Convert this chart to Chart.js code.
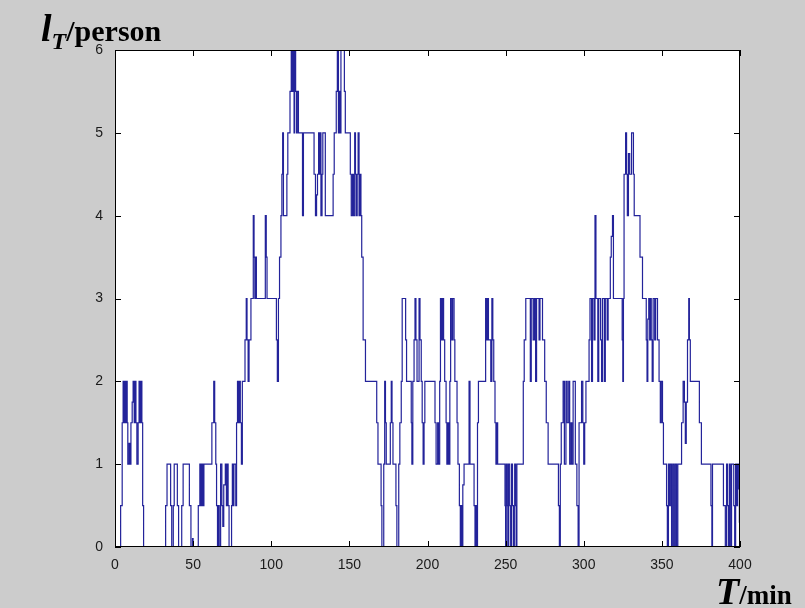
<!DOCTYPE html>
<html>
<head>
<meta charset="utf-8">
<script src="https://cdn.jsdelivr.net/npm/chart.js@4.4.1/dist/chart.umd.min.js"></script>
<style>
  body { margin: 0; background: #cccccc; }
  #wrap { position: relative; width: 805px; height: 608px; overflow: hidden; }
  .lab { position: absolute; font-family: "Liberation Serif", serif; font-weight: bold; color: #000; white-space: nowrap; line-height: 1; }
</style>
</head>
<body>
<div id="wrap">
  <canvas id="grafico" width="805" height="608"></canvas>
  <div class="lab" id="ylab" style="left:41px; top:9px;"><i style="font-size:38px">l</i><i style="font-size:24px; position:relative; top:8px">T</i><span style="font-size:30px">/person</span></div>
  <div class="lab" id="xlab" style="left:716px; top:572px;"><i style="font-size:38px">T</i><span style="font-size:27px">/min</span></div>
</div>
<script>
// queue length l_T (persons) starting at each time T (min)
const stepTimes = [
  0, 3.6, 4.6, 5.2, 5.8, 6.2, 6.8, 7.4, 7.8, 8.2, 9.0, 9.6, 10.2, 11.0, 11.6, 12.3, 12.8, 13.4, 14.0, 14.8,
  15.4, 16.0, 16.5, 17.2, 17.7, 18.3, 32.4, 33.3, 35.6, 36.3, 37.3, 37.9, 39.9, 40.7, 42.7, 43.6, 47.6, 48.6, 49.6, 50.0,
  53.3, 54.3, 55.0, 55.6, 56.3, 56.9, 62.0, 63.2, 63.8, 64.5, 65.0, 65.6, 66.2, 66.7, 67.6, 68.4, 69.0, 69.6, 70.6, 71.3,
  71.8, 72.4, 73.0, 74.6, 75.1, 75.6, 76.1, 77.3, 77.8, 78.4, 79.0, 79.6, 80.2, 80.9, 81.5, 83.2, 84.0, 84.5, 85.2, 85.8,
  87.0, 88.5, 89.0, 89.5, 90.0, 90.5, 96.2, 96.8, 97.3, 103.3, 103.9, 104.6, 105.3, 106.2, 106.8, 107.3, 107.8, 110.0, 110.6, 112.0,
  112.8, 113.5, 114.0, 114.6, 115.0, 115.6, 116.2, 116.6, 117.4, 120.0, 120.6, 127.4, 128.3, 129.0, 129.6, 130.3, 130.8, 131.4, 131.8, 132.5,
  133.0, 134.6, 139.6, 140.3, 141.6, 142.3, 143.0, 143.6, 144.0, 144.6, 146.8, 147.4, 150.6, 151.2, 152.0, 152.6, 153.4, 153.9, 154.4, 155.0,
  155.6, 156.2, 156.8, 157.4, 157.9, 158.8, 160.3, 167.5, 168.3, 170.3, 170.8, 172.0, 172.6, 173.1, 173.6, 176.2, 176.8, 177.3, 177.9, 179.8,
  180.4, 181.6, 182.3, 183.2, 183.8, 186.0, 186.6, 189.6, 190.0, 190.6, 191.4, 192.0, 192.6, 193.3, 194.6, 195.2, 196.0, 196.6, 197.2, 197.8,
  198.3, 204.8, 205.5, 206.5, 207.0, 207.8, 208.3, 209.0, 209.6, 210.3, 211.0, 211.9, 212.4, 213.0, 213.6, 214.3, 214.8, 215.6, 216.1, 217.0,
  217.5, 218.9, 219.5, 220.4, 221.0, 221.6, 222.2, 222.6, 223.4, 226.6, 227.2, 229.8, 230.4, 231.0, 231.6, 232.0, 232.6, 237.2, 237.8, 238.3,
  239.0, 240.5, 241.2, 241.8, 242.4, 243.2, 243.8, 244.3, 244.9, 249.6, 250.0, 250.4, 251.0, 251.4, 251.8, 252.6, 253.0, 253.8, 254.4, 255.0,
  255.8, 256.4, 256.9, 257.2, 261.3, 261.9, 262.9, 265.8, 266.4, 267.6, 268.4, 269.2, 269.8, 271.4, 272.0, 273.6, 275.0, 276.0, 277.2, 283.8,
  284.4, 285.0, 285.6, 286.8, 287.6, 288.6, 289.4, 290.4, 291.0, 291.8, 292.4, 293.2, 294.6, 295.6, 296.4, 297.0, 298.6, 299.4, 300.0, 300.6,
  301.4, 303.4, 304.0, 305.0, 305.6, 306.6, 307.2, 307.8, 309.0, 309.6, 310.8, 311.4, 312.0, 313.2, 313.8, 315.0, 315.6, 317.0, 317.6, 318.4,
  319.0, 324.6, 325.0, 325.4, 325.8, 326.8, 327.4, 327.9, 328.6, 329.4, 330.6, 331.8, 332.3, 336.0, 337.6, 340.0, 340.5, 341.0, 341.6, 342.2,
  342.6, 343.2, 343.8, 344.4, 345.4, 346.0, 347.2, 348.2, 349.0, 349.6, 350.4, 351.0, 353.0, 353.5, 354.2, 354.8, 355.4, 356.2, 357.0, 357.8,
  358.6, 359.4, 360.2, 362.6, 363.6, 364.4, 365.0, 365.6, 366.4, 367.2, 367.6, 368.2, 374.0, 375.3, 381.4, 382.0, 382.4, 389.4, 390.6, 391.4,
  392.0, 392.6, 393.2, 393.8, 394.6, 396.0, 396.6, 397.2, 397.8, 398.4, 399.2, 399.6, 400
];
const queueLength = [
  0, 0.5, 1.5, 2, 1.5, 2, 1.5, 2, 1.5, 1, 1.25, 1, 1.5, 1.75, 2, 1.5, 2, 1.5, 1, 1.5,
  2, 1.5, 2, 1.5, 0.5, 0, 0.5, 1, 0.5, 0, 0.5, 1, 0.5, 0, 0.5, 1, 0.5, 0, 0.1, 0,
  0.5, 1, 0.5, 1, 0.5, 1, 1.5, 2, 1.5, 1, 0.5, 0, 0.5, 0, 1, 0.5, 0.25, 0.75, 1, 0.5,
  1, 0.5, 0, 0.5, 1, 0.5, 1, 0.5, 1.5, 2, 1.5, 2, 1.5, 1, 2, 2.5, 3, 2.5, 2, 2.5,
  3, 4, 3.5, 3, 3.5, 3, 4, 3.5, 3, 2.5, 2, 3, 3.5, 4, 4.5, 5, 4, 4.5, 5, 5.5,
  6, 5.5, 6, 5, 6, 5.5, 5, 5.5, 5, 4, 5, 4.5, 4, 4.25, 4.5, 5, 4.5, 5, 4, 4.5,
  5, 4, 4.5, 5, 5.5, 6, 5, 5.5, 5, 6, 5.5, 5, 4.5, 4, 4.5, 4, 5, 4.5, 4, 4.5,
  5, 4, 4.5, 4, 3.5, 2.5, 2, 1.5, 1, 0.5, 0, 1, 2, 1.5, 1, 1.5, 2, 1.5, 1, 0.5,
  0, 1, 1.5, 2, 3, 2.5, 2, 1.5, 1, 2, 2.5, 3, 2.5, 2, 3, 2.5, 2, 1.5, 1, 1.5,
  2, 1.5, 1, 1.5, 1, 2, 3, 2.5, 3, 2.5, 2, 1.5, 1, 1.5, 1, 2, 3, 2.5, 3, 2.5,
  2, 1.5, 1, 0.5, 0, 0.5, 0, 0.75, 1, 2, 1, 0.5, 0, 0.5, 0, 1.5, 2, 3, 2.5, 3,
  2.5, 2, 3, 2.5, 2, 1.5, 1, 1.5, 1, 0.5, 0, 1, 0.5, 0, 1, 0.5, 0, 1, 0.5, 0,
  1, 0.5, 0, 1, 2, 2.5, 3, 2, 3, 2.5, 3, 2, 3, 2.5, 3, 2.5, 2, 1.5, 1, 0.5,
  0, 1, 1.5, 2, 1, 2, 1.5, 2, 1, 1.5, 1, 2, 1, 0.5, 0, 1.5, 2, 1.5, 1, 1.5,
  2, 2.5, 3, 2, 3, 2.5, 4, 3, 2, 3, 2.5, 2, 3, 2, 3, 2.5, 3, 3.5, 3.75, 4,
  3, 2.5, 2, 3, 4.5, 5, 4.5, 4, 4.75, 4.5, 5, 4.5, 4, 3.5, 3, 2.5, 2, 2.75, 3, 2.5,
  3, 2.5, 2, 3, 2.5, 3, 2.5, 2, 1.5, 2, 1.5, 1, 0.5, 0, 1, 0.5, 1, 0, 1, 0,
  1, 0, 1, 1.5, 2, 1.75, 1.25, 1.75, 2.5, 3, 2.5, 2, 1.5, 1, 0.5, 0, 1, 0.5, 0, 1,
  0.5, 0, 1, 0, 1, 0.5, 0, 1, 0.5, 1, 0.7, 0.3, 0.3
];
const xTicks = [0, 50, 100, 150, 200, 250, 300, 350, 400];
const yTicks = [0, 1, 2, 3, 4, 5, 6];

const puntos = stepTimes.map((t, i) => ({ x: t, y: queueLength[i] }));

// white plot area, black box and inward ticks on all four sides (matlab look)
const marco = {
  id: 'marco',
  beforeDraw(c) {
    const { ctx, chartArea: a } = c;
    ctx.save();
    ctx.fillStyle = '#ffffff';
    ctx.fillRect(a.left, a.top, a.width, a.height);
    ctx.restore();
  },
  afterDraw(c) {
    const { ctx, chartArea: a, scales } = c;
    ctx.save();
    ctx.strokeStyle = '#000';
    ctx.lineWidth = 1;
    ctx.strokeRect(Math.round(a.left) + 0.5, Math.round(a.top) + 0.5, Math.round(a.width) - 1, Math.round(a.height) - 1);
    ctx.beginPath();
    xTicks.forEach(v => {
      const px = Math.round(scales.x.getPixelForValue(v)) + 0.5;
      ctx.moveTo(px, a.bottom); ctx.lineTo(px, a.bottom - 6);
      ctx.moveTo(px, a.top); ctx.lineTo(px, a.top + 6);
    });
    yTicks.forEach(v => {
      const py = Math.round(scales.y.getPixelForValue(v)) + 0.5;
      ctx.moveTo(a.left, py); ctx.lineTo(a.left + 6, py);
      ctx.moveTo(a.right, py); ctx.lineTo(a.right - 6, py);
    });
    ctx.stroke();
    ctx.restore();
  }
};

const fuente = { family: 'Liberation Sans', size: 14 };

new Chart(document.getElementById('grafico'), {
  type: 'line',
  data: {
    datasets: [{
      data: puntos,
      stepped: true,
      borderColor: '#23239a',
      borderWidth: 1.2,
      pointRadius: 0,
      fill: false
    }]
  },
  options: {
    responsive: false,
    animation: false,
    events: [],
    layout: { padding: { left: 0, right: 65, top: 50, bottom: 0 } },
    plugins: { legend: { display: false }, tooltip: { enabled: false } },
    scales: {
      x: {
        type: 'linear',
        min: 0, max: 400,
        afterBuildTicks: s => { s.ticks = xTicks.map(v => ({ value: v })); },
        afterFit: s => { s.height = 61; },
        grid: { display: false },
        border: { display: false },
        ticks: { font: fuente, color: '#1a1a1a', padding: 2, maxRotation: 0 }
      },
      y: {
        min: 0, max: 6,
        afterBuildTicks: s => { s.ticks = yTicks.map(v => ({ value: v })); },
        afterFit: s => { s.width = 115; },
        grid: { display: false },
        border: { display: false },
        ticks: { font: fuente, color: '#1a1a1a', padding: 4 }
      }
    }
  },
  plugins: [marco]
});
</script>
</body>
</html>
